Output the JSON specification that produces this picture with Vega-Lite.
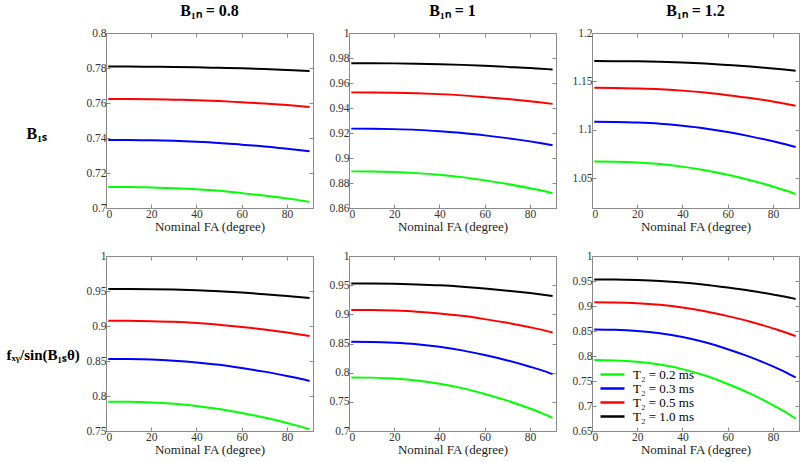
{
"$schema":"https://vega.github.io/schema/vega-lite/v6.json",
"background":"white",
"padding":{"left":5,"top":2,"right":0,"bottom":0},
"config":{
"font":"Liberation Serif",
"view":{"stroke":"#8a8a8a","strokeWidth":1},
"axis":{"grid":false,"domain":false,"tickColor":"#8a8a8a","tickSize":-4,"labelFont":"Liberation Serif","labelFontSize":11.5,"labelColor":"#333333","labelPadding":4,"titleFont":"Liberation Serif","titleFontSize":13,"titleFontWeight":"normal","titleColor":"#222222","titlePadding":1},
"axisX":{"labelFont":"Liberation Serif"},
"axisY":{"labelFont":"Liberation Serif"},
"title":{"font":"Liberation Serif","fontSize":16,"fontWeight":"bold","color":"black","anchor":"middle","frame":"group","offset":8},
"legend":{"labelFont":"Liberation Serif","labelFontSize":13,"labelColor":"black"}
},
"datasets":{"d":[
{"p":"A","t":"1.0","x":1,"v":0.7808},{"p":"A","t":"1.0","x":10,"v":0.7808},{"p":"A","t":"1.0","x":20,"v":0.7807},{"p":"A","t":"1.0","x":30,"v":0.7806},{"p":"A","t":"1.0","x":40,"v":0.7804},{"p":"A","t":"1.0","x":50,"v":0.7801},{"p":"A","t":"1.0","x":60,"v":0.7798},{"p":"A","t":"1.0","x":70,"v":0.7794},{"p":"A","t":"1.0","x":80,"v":0.7789},{"p":"A","t":"1.0","x":85,"v":0.7786},{"p":"A","t":"1.0","x":90,"v":0.7783},
{"p":"A","t":"0.5","x":1,"v":0.7623},{"p":"A","t":"0.5","x":10,"v":0.7623},{"p":"A","t":"0.5","x":20,"v":0.7622},{"p":"A","t":"0.5","x":30,"v":0.7619},{"p":"A","t":"0.5","x":40,"v":0.7616},{"p":"A","t":"0.5","x":50,"v":0.7611},{"p":"A","t":"0.5","x":60,"v":0.7604},{"p":"A","t":"0.5","x":70,"v":0.7597},{"p":"A","t":"0.5","x":80,"v":0.7588},{"p":"A","t":"0.5","x":85,"v":0.7583},{"p":"A","t":"0.5","x":90,"v":0.7577},
{"p":"A","t":"0.3","x":1,"v":0.7389},{"p":"A","t":"0.3","x":10,"v":0.7389},{"p":"A","t":"0.3","x":20,"v":0.7387},{"p":"A","t":"0.3","x":30,"v":0.7384},{"p":"A","t":"0.3","x":40,"v":0.7379},{"p":"A","t":"0.3","x":50,"v":0.7372},{"p":"A","t":"0.3","x":60,"v":0.7362},{"p":"A","t":"0.3","x":70,"v":0.7352},{"p":"A","t":"0.3","x":80,"v":0.7339},{"p":"A","t":"0.3","x":85,"v":0.7332},{"p":"A","t":"0.3","x":90,"v":0.7324},
{"p":"A","t":"0.2","x":1,"v":0.7120},{"p":"A","t":"0.2","x":10,"v":0.7120},{"p":"A","t":"0.2","x":20,"v":0.7117},{"p":"A","t":"0.2","x":30,"v":0.7113},{"p":"A","t":"0.2","x":40,"v":0.7107},{"p":"A","t":"0.2","x":50,"v":0.7098},{"p":"A","t":"0.2","x":60,"v":0.7085},{"p":"A","t":"0.2","x":70,"v":0.7071},{"p":"A","t":"0.2","x":80,"v":0.7055},{"p":"A","t":"0.2","x":85,"v":0.7045},{"p":"A","t":"0.2","x":90,"v":0.7035},
{"p":"B","t":"1.0","x":1,"v":0.9758},{"p":"B","t":"1.0","x":10,"v":0.9758},{"p":"B","t":"1.0","x":20,"v":0.9757},{"p":"B","t":"1.0","x":30,"v":0.9754},{"p":"B","t":"1.0","x":40,"v":0.9750},{"p":"B","t":"1.0","x":50,"v":0.9745},{"p":"B","t":"1.0","x":60,"v":0.9738},{"p":"B","t":"1.0","x":70,"v":0.9729},{"p":"B","t":"1.0","x":80,"v":0.9720},{"p":"B","t":"1.0","x":85,"v":0.9714},{"p":"B","t":"1.0","x":90,"v":0.9708},
{"p":"B","t":"0.5","x":1,"v":0.9525},{"p":"B","t":"0.5","x":10,"v":0.9524},{"p":"B","t":"0.5","x":20,"v":0.9522},{"p":"B","t":"0.5","x":30,"v":0.9518},{"p":"B","t":"0.5","x":40,"v":0.9511},{"p":"B","t":"0.5","x":50,"v":0.9501},{"p":"B","t":"0.5","x":60,"v":0.9487},{"p":"B","t":"0.5","x":70,"v":0.9472},{"p":"B","t":"0.5","x":80,"v":0.9454},{"p":"B","t":"0.5","x":85,"v":0.9444},{"p":"B","t":"0.5","x":90,"v":0.9433},
{"p":"B","t":"0.3","x":1,"v":0.9235},{"p":"B","t":"0.3","x":10,"v":0.9234},{"p":"B","t":"0.3","x":20,"v":0.9231},{"p":"B","t":"0.3","x":30,"v":0.9225},{"p":"B","t":"0.3","x":40,"v":0.9214},{"p":"B","t":"0.3","x":50,"v":0.9200},{"p":"B","t":"0.3","x":60,"v":0.9181},{"p":"B","t":"0.3","x":70,"v":0.9159},{"p":"B","t":"0.3","x":80,"v":0.9133},{"p":"B","t":"0.3","x":85,"v":0.9118},{"p":"B","t":"0.3","x":90,"v":0.9102},
{"p":"B","t":"0.2","x":1,"v":0.8893},{"p":"B","t":"0.2","x":10,"v":0.8892},{"p":"B","t":"0.2","x":20,"v":0.8888},{"p":"B","t":"0.2","x":30,"v":0.8879},{"p":"B","t":"0.2","x":40,"v":0.8866},{"p":"B","t":"0.2","x":50,"v":0.8847},{"p":"B","t":"0.2","x":60,"v":0.8821},{"p":"B","t":"0.2","x":70,"v":0.8792},{"p":"B","t":"0.2","x":80,"v":0.8758},{"p":"B","t":"0.2","x":85,"v":0.8740},{"p":"B","t":"0.2","x":90,"v":0.8718},
{"p":"C","t":"1.0","x":1,"v":1.1710},{"p":"C","t":"1.0","x":10,"v":1.1709},{"p":"C","t":"1.0","x":20,"v":1.1707},{"p":"C","t":"1.0","x":30,"v":1.1702},{"p":"C","t":"1.0","x":40,"v":1.1695},{"p":"C","t":"1.0","x":50,"v":1.1684},{"p":"C","t":"1.0","x":60,"v":1.1669},{"p":"C","t":"1.0","x":70,"v":1.1653},{"p":"C","t":"1.0","x":80,"v":1.1633},{"p":"C","t":"1.0","x":85,"v":1.1622},{"p":"C","t":"1.0","x":90,"v":1.1610},
{"p":"C","t":"0.5","x":1,"v":1.1433},{"p":"C","t":"0.5","x":10,"v":1.1432},{"p":"C","t":"0.5","x":20,"v":1.1427},{"p":"C","t":"0.5","x":30,"v":1.1419},{"p":"C","t":"0.5","x":40,"v":1.1404},{"p":"C","t":"0.5","x":50,"v":1.1384},{"p":"C","t":"0.5","x":60,"v":1.1357},{"p":"C","t":"0.5","x":70,"v":1.1327},{"p":"C","t":"0.5","x":80,"v":1.1291},{"p":"C","t":"0.5","x":85,"v":1.1271},{"p":"C","t":"0.5","x":90,"v":1.1248},
{"p":"C","t":"0.3","x":1,"v":1.1082},{"p":"C","t":"0.3","x":10,"v":1.1080},{"p":"C","t":"0.3","x":20,"v":1.1074},{"p":"C","t":"0.3","x":30,"v":1.1062},{"p":"C","t":"0.3","x":40,"v":1.1041},{"p":"C","t":"0.3","x":50,"v":1.1013},{"p":"C","t":"0.3","x":60,"v":1.0975},{"p":"C","t":"0.3","x":70,"v":1.0931},{"p":"C","t":"0.3","x":80,"v":1.0880},{"p":"C","t":"0.3","x":85,"v":1.0852},{"p":"C","t":"0.3","x":90,"v":1.0820},
{"p":"C","t":"0.2","x":1,"v":1.0670},{"p":"C","t":"0.2","x":10,"v":1.0668},{"p":"C","t":"0.2","x":20,"v":1.0660},{"p":"C","t":"0.2","x":30,"v":1.0644},{"p":"C","t":"0.2","x":40,"v":1.0618},{"p":"C","t":"0.2","x":50,"v":1.0581},{"p":"C","t":"0.2","x":60,"v":1.0533},{"p":"C","t":"0.2","x":70,"v":1.0477},{"p":"C","t":"0.2","x":80,"v":1.0412},{"p":"C","t":"0.2","x":85,"v":1.0376},{"p":"C","t":"0.2","x":90,"v":1.0335},
{"p":"D","t":"1.0","x":1,"v":0.9530},{"p":"D","t":"1.0","x":10,"v":0.9529},{"p":"D","t":"1.0","x":20,"v":0.9526},{"p":"D","t":"1.0","x":30,"v":0.9520},{"p":"D","t":"1.0","x":40,"v":0.9510},{"p":"D","t":"1.0","x":50,"v":0.9496},{"p":"D","t":"1.0","x":60,"v":0.9477},{"p":"D","t":"1.0","x":70,"v":0.9455},{"p":"D","t":"1.0","x":80,"v":0.9430},{"p":"D","t":"1.0","x":85,"v":0.9416},{"p":"D","t":"1.0","x":90,"v":0.9400},
{"p":"D","t":"0.5","x":1,"v":0.9076},{"p":"D","t":"0.5","x":10,"v":0.9075},{"p":"D","t":"0.5","x":20,"v":0.9069},{"p":"D","t":"0.5","x":30,"v":0.9059},{"p":"D","t":"0.5","x":40,"v":0.9042},{"p":"D","t":"0.5","x":50,"v":0.9018},{"p":"D","t":"0.5","x":60,"v":0.8986},{"p":"D","t":"0.5","x":70,"v":0.8950},{"p":"D","t":"0.5","x":80,"v":0.8907},{"p":"D","t":"0.5","x":85,"v":0.8883},{"p":"D","t":"0.5","x":90,"v":0.8856},
{"p":"D","t":"0.3","x":1,"v":0.8529},{"p":"D","t":"0.3","x":10,"v":0.8527},{"p":"D","t":"0.3","x":20,"v":0.8520},{"p":"D","t":"0.3","x":30,"v":0.8504},{"p":"D","t":"0.3","x":40,"v":0.8480},{"p":"D","t":"0.3","x":50,"v":0.8446},{"p":"D","t":"0.3","x":60,"v":0.8400},{"p":"D","t":"0.3","x":70,"v":0.8348},{"p":"D","t":"0.3","x":80,"v":0.8286},{"p":"D","t":"0.3","x":85,"v":0.8253},{"p":"D","t":"0.3","x":90,"v":0.8214},
{"p":"D","t":"0.2","x":1,"v":0.7919},{"p":"D","t":"0.2","x":10,"v":0.7917},{"p":"D","t":"0.2","x":20,"v":0.7907},{"p":"D","t":"0.2","x":30,"v":0.7888},{"p":"D","t":"0.2","x":40,"v":0.7858},{"p":"D","t":"0.2","x":50,"v":0.7814},{"p":"D","t":"0.2","x":60,"v":0.7757},{"p":"D","t":"0.2","x":70,"v":0.7692},{"p":"D","t":"0.2","x":80,"v":0.7615},{"p":"D","t":"0.2","x":85,"v":0.7573},{"p":"D","t":"0.2","x":90,"v":0.7524},
{"p":"E","t":"1.0","x":1,"v":0.9530},{"p":"E","t":"1.0","x":10,"v":0.9529},{"p":"E","t":"1.0","x":20,"v":0.9524},{"p":"E","t":"1.0","x":30,"v":0.9513},{"p":"E","t":"1.0","x":40,"v":0.9497},{"p":"E","t":"1.0","x":50,"v":0.9473},{"p":"E","t":"1.0","x":60,"v":0.9442},{"p":"E","t":"1.0","x":70,"v":0.9406},{"p":"E","t":"1.0","x":80,"v":0.9364},{"p":"E","t":"1.0","x":85,"v":0.9341},{"p":"E","t":"1.0","x":90,"v":0.9315},
{"p":"E","t":"0.5","x":1,"v":0.9076},{"p":"E","t":"0.5","x":10,"v":0.9074},{"p":"E","t":"0.5","x":20,"v":0.9064},{"p":"E","t":"0.5","x":30,"v":0.9046},{"p":"E","t":"0.5","x":40,"v":0.9016},{"p":"E","t":"0.5","x":50,"v":0.8974},{"p":"E","t":"0.5","x":60,"v":0.8918},{"p":"E","t":"0.5","x":70,"v":0.8854},{"p":"E","t":"0.5","x":80,"v":0.8779},{"p":"E","t":"0.5","x":85,"v":0.8738},{"p":"E","t":"0.5","x":90,"v":0.8690},
{"p":"E","t":"0.3","x":1,"v":0.8529},{"p":"E","t":"0.3","x":10,"v":0.8526},{"p":"E","t":"0.3","x":20,"v":0.8512},{"p":"E","t":"0.3","x":30,"v":0.8486},{"p":"E","t":"0.3","x":40,"v":0.8443},{"p":"E","t":"0.3","x":50,"v":0.8382},{"p":"E","t":"0.3","x":60,"v":0.8302},{"p":"E","t":"0.3","x":70,"v":0.8210},{"p":"E","t":"0.3","x":80,"v":0.8102},{"p":"E","t":"0.3","x":85,"v":0.8043},{"p":"E","t":"0.3","x":90,"v":0.7975},
{"p":"E","t":"0.2","x":1,"v":0.7919},{"p":"E","t":"0.2","x":10,"v":0.7915},{"p":"E","t":"0.2","x":20,"v":0.7898},{"p":"E","t":"0.2","x":30,"v":0.7865},{"p":"E","t":"0.2","x":40,"v":0.7811},{"p":"E","t":"0.2","x":50,"v":0.7735},{"p":"E","t":"0.2","x":60,"v":0.7635},{"p":"E","t":"0.2","x":70,"v":0.7520},{"p":"E","t":"0.2","x":80,"v":0.7385},{"p":"E","t":"0.2","x":85,"v":0.7310},{"p":"E","t":"0.2","x":90,"v":0.7225},
{"p":"F","t":"1.0","x":1,"v":0.9530},{"p":"F","t":"1.0","x":10,"v":0.9528},{"p":"F","t":"1.0","x":20,"v":0.9518},{"p":"F","t":"1.0","x":30,"v":0.9500},{"p":"F","t":"1.0","x":40,"v":0.9470},{"p":"F","t":"1.0","x":50,"v":0.9427},{"p":"F","t":"1.0","x":60,"v":0.9370},{"p":"F","t":"1.0","x":70,"v":0.9306},{"p":"F","t":"1.0","x":80,"v":0.9230},{"p":"F","t":"1.0","x":85,"v":0.9188},{"p":"F","t":"1.0","x":90,"v":0.9140},
{"p":"F","t":"0.5","x":1,"v":0.9076},{"p":"F","t":"0.5","x":10,"v":0.9072},{"p":"F","t":"0.5","x":20,"v":0.9056},{"p":"F","t":"0.5","x":30,"v":0.9023},{"p":"F","t":"0.5","x":40,"v":0.8971},{"p":"F","t":"0.5","x":50,"v":0.8896},{"p":"F","t":"0.5","x":60,"v":0.8797},{"p":"F","t":"0.5","x":70,"v":0.8685},{"p":"F","t":"0.5","x":80,"v":0.8552},{"p":"F","t":"0.5","x":85,"v":0.8480},{"p":"F","t":"0.5","x":90,"v":0.8396},
{"p":"F","t":"0.3","x":1,"v":0.8529},{"p":"F","t":"0.3","x":10,"v":0.8523},{"p":"F","t":"0.3","x":20,"v":0.8500},{"p":"F","t":"0.3","x":30,"v":0.8454},{"p":"F","t":"0.3","x":40,"v":0.8380},{"p":"F","t":"0.3","x":50,"v":0.8275},{"p":"F","t":"0.3","x":60,"v":0.8136},{"p":"F","t":"0.3","x":70,"v":0.7978},{"p":"F","t":"0.3","x":80,"v":0.7791},{"p":"F","t":"0.3","x":85,"v":0.7688},{"p":"F","t":"0.3","x":90,"v":0.7570},
{"p":"F","t":"0.2","x":1,"v":0.7919},{"p":"F","t":"0.2","x":10,"v":0.7912},{"p":"F","t":"0.2","x":20,"v":0.7884},{"p":"F","t":"0.2","x":30,"v":0.7828},{"p":"F","t":"0.2","x":40,"v":0.7738},{"p":"F","t":"0.2","x":50,"v":0.7609},{"p":"F","t":"0.2","x":60,"v":0.7440},{"p":"F","t":"0.2","x":70,"v":0.7247},{"p":"F","t":"0.2","x":80,"v":0.7019},{"p":"F","t":"0.2","x":85,"v":0.6894},{"p":"F","t":"0.2","x":90,"v":0.6750}
]},
"columns":3,
"spacing":{"row":48,"column":36},
"bounds":"flush",
"resolve":{"scale":{"x":"independent","y":"independent","color":"independent"},"legend":{"color":"independent"}},
"concat":[
{"width":207,"height":175,"title":{"text":"B₁ₙ = 0.8"},"data":{"name":"d"},"transform":[{"filter":"datum.p == 'A'"}],
"layer":[
{"mark":{"type":"line","strokeWidth":2,"interpolate":"monotone"},"encoding":{
"x":{"field":"x","type":"quantitative","scale":{"domain":[0,91.5],"nice":false,"zero":false},"axis":{"orient":"bottom","values":[0,20,40,60,80],"title":"Nominal FA (degree)"}},
"y":{"field":"v","type":"quantitative","scale":{"domain":[0.7,0.8],"nice":false,"zero":false},"axis":{"orient":"left","values":[0.7,0.72,0.74,0.76,0.78,0.8],"format":"~g","title":"B₁ₛ","titleAngle":0,"titleAlign":"left","titleBaseline":"middle","titleX":-80,"titleY":100,"titleFontSize":16,"titleFontWeight":"bold","titleColor":"black"}},
"color":{"field":"t","type":"nominal","scale":{"domain":["0.2","0.3","0.5","1.0"],"range":["#00ff00","#0000ff","#ff0000","#000000"]},"legend":null}}},
{"mark":{"type":"line","opacity":0},"encoding":{
"x":{"field":"x","type":"quantitative","scale":{"domain":[0,91.5],"nice":false,"zero":false},"axis":{"orient":"top","values":[0,20,40,60,80],"labels":false,"title":null}},
"y":{"field":"v","type":"quantitative","scale":{"domain":[0.7,0.8],"nice":false,"zero":false},"axis":{"orient":"right","values":[0.7,0.72,0.74,0.76,0.78,0.8],"labels":false,"title":null}},
"detail":{"field":"t"}}}
],"resolve":{"axis":{"x":"independent","y":"independent"}}},
{"width":207,"height":175,"title":{"text":"B₁ₙ = 1"},"data":{"name":"d"},"transform":[{"filter":"datum.p == 'B'"}],
"layer":[
{"mark":{"type":"line","strokeWidth":2,"interpolate":"monotone"},"encoding":{
"x":{"field":"x","type":"quantitative","scale":{"domain":[0,91.5],"nice":false,"zero":false},"axis":{"orient":"bottom","values":[0,20,40,60,80],"title":"Nominal FA (degree)"}},
"y":{"field":"v","type":"quantitative","scale":{"domain":[0.86,1],"nice":false,"zero":false},"axis":{"orient":"left","values":[0.86,0.88,0.9,0.92,0.94,0.96,0.98,1],"format":"~g","title":null}},
"color":{"field":"t","type":"nominal","scale":{"domain":["0.2","0.3","0.5","1.0"],"range":["#00ff00","#0000ff","#ff0000","#000000"]},"legend":null}}},
{"mark":{"type":"line","opacity":0},"encoding":{
"x":{"field":"x","type":"quantitative","scale":{"domain":[0,91.5],"nice":false,"zero":false},"axis":{"orient":"top","values":[0,20,40,60,80],"labels":false,"title":null}},
"y":{"field":"v","type":"quantitative","scale":{"domain":[0.86,1],"nice":false,"zero":false},"axis":{"orient":"right","values":[0.86,0.88,0.9,0.92,0.94,0.96,0.98,1],"labels":false,"title":null}},
"detail":{"field":"t"}}}
],"resolve":{"axis":{"x":"independent","y":"independent"}}},
{"width":207,"height":175,"title":{"text":"B₁ₙ = 1.2"},"data":{"name":"d"},"transform":[{"filter":"datum.p == 'C'"}],
"layer":[
{"mark":{"type":"line","strokeWidth":2,"interpolate":"monotone"},"encoding":{
"x":{"field":"x","type":"quantitative","scale":{"domain":[0,91.5],"nice":false,"zero":false},"axis":{"orient":"bottom","values":[0,20,40,60,80],"title":"Nominal FA (degree)"}},
"y":{"field":"v","type":"quantitative","scale":{"domain":[1.019,1.2],"nice":false,"zero":false},"axis":{"orient":"left","values":[1.05,1.1,1.15,1.2],"format":"~g","title":null}},
"color":{"field":"t","type":"nominal","scale":{"domain":["0.2","0.3","0.5","1.0"],"range":["#00ff00","#0000ff","#ff0000","#000000"]},"legend":null}}},
{"mark":{"type":"line","opacity":0},"encoding":{
"x":{"field":"x","type":"quantitative","scale":{"domain":[0,91.5],"nice":false,"zero":false},"axis":{"orient":"top","values":[0,20,40,60,80],"labels":false,"title":null}},
"y":{"field":"v","type":"quantitative","scale":{"domain":[1.019,1.2],"nice":false,"zero":false},"axis":{"orient":"right","values":[1.05,1.1,1.15,1.2],"labels":false,"title":null}},
"detail":{"field":"t"}}}
],"resolve":{"axis":{"x":"independent","y":"independent"}}},
{"width":207,"height":175,"data":{"name":"d"},"transform":[{"filter":"datum.p == 'D'"}],
"layer":[
{"mark":{"type":"line","strokeWidth":2,"interpolate":"monotone"},"encoding":{
"x":{"field":"x","type":"quantitative","scale":{"domain":[0,91.5],"nice":false,"zero":false},"axis":{"orient":"bottom","values":[0,20,40,60,80],"title":"Nominal FA (degree)"}},
"y":{"field":"v","type":"quantitative","scale":{"domain":[0.75,1],"nice":false,"zero":false},"axis":{"orient":"left","values":[0.75,0.8,0.85,0.9,0.95,1],"format":"~g","title":"fₓᵧ/sin(B₁ₛθ)","titleAngle":0,"titleAlign":"left","titleBaseline":"middle","titleX":-100,"titleY":98,"titleFontSize":15,"titleFontWeight":"bold","titleColor":"black"}},
"color":{"field":"t","type":"nominal","scale":{"domain":["0.2","0.3","0.5","1.0"],"range":["#00ff00","#0000ff","#ff0000","#000000"]},"legend":null}}},
{"mark":{"type":"line","opacity":0},"encoding":{
"x":{"field":"x","type":"quantitative","scale":{"domain":[0,91.5],"nice":false,"zero":false},"axis":{"orient":"top","values":[0,20,40,60,80],"labels":false,"title":null}},
"y":{"field":"v","type":"quantitative","scale":{"domain":[0.75,1],"nice":false,"zero":false},"axis":{"orient":"right","values":[0.75,0.8,0.85,0.9,0.95,1],"labels":false,"title":null}},
"detail":{"field":"t"}}}
],"resolve":{"axis":{"x":"independent","y":"independent"}}},
{"width":207,"height":175,"data":{"name":"d"},"transform":[{"filter":"datum.p == 'E'"}],
"layer":[
{"mark":{"type":"line","strokeWidth":2,"interpolate":"monotone"},"encoding":{
"x":{"field":"x","type":"quantitative","scale":{"domain":[0,91.5],"nice":false,"zero":false},"axis":{"orient":"bottom","values":[0,20,40,60,80],"title":"Nominal FA (degree)"}},
"y":{"field":"v","type":"quantitative","scale":{"domain":[0.7,1],"nice":false,"zero":false},"axis":{"orient":"left","values":[0.7,0.75,0.8,0.85,0.9,0.95,1],"format":"~g","title":null}},
"color":{"field":"t","type":"nominal","scale":{"domain":["0.2","0.3","0.5","1.0"],"range":["#00ff00","#0000ff","#ff0000","#000000"]},"legend":null}}},
{"mark":{"type":"line","opacity":0},"encoding":{
"x":{"field":"x","type":"quantitative","scale":{"domain":[0,91.5],"nice":false,"zero":false},"axis":{"orient":"top","values":[0,20,40,60,80],"labels":false,"title":null}},
"y":{"field":"v","type":"quantitative","scale":{"domain":[0.7,1],"nice":false,"zero":false},"axis":{"orient":"right","values":[0.7,0.75,0.8,0.85,0.9,0.95,1],"labels":false,"title":null}},
"detail":{"field":"t"}}}
],"resolve":{"axis":{"x":"independent","y":"independent"}}},
{"width":207,"height":175,"data":{"name":"d"},"transform":[{"filter":"datum.p == 'F'"}],
"layer":[
{"mark":{"type":"line","strokeWidth":2,"interpolate":"monotone"},"encoding":{
"x":{"field":"x","type":"quantitative","scale":{"domain":[0,91.5],"nice":false,"zero":false},"axis":{"orient":"bottom","values":[0,20,40,60,80],"title":"Nominal FA (degree)"}},
"y":{"field":"v","type":"quantitative","scale":{"domain":[0.65,1],"nice":false,"zero":false},"axis":{"orient":"left","values":[0.65,0.7,0.75,0.8,0.85,0.9,0.95,1],"format":"~g","title":null}},
"color":{"field":"t","type":"nominal","scale":{"domain":["0.2","0.3","0.5","1.0"],"range":["#00ff00","#0000ff","#ff0000","#000000"]},"legend":{"orient":"bottom-left","offset":7,"padding":0,"title":null,"labelExpr":"'T₂ = ' + datum.label + ' ms'","symbolType":"M-1,0H3.8","symbolSize":100,"symbolStrokeWidth":2.5,"labelOffset":21,"rowPadding":0}}}},
{"mark":{"type":"line","opacity":0},"encoding":{
"x":{"field":"x","type":"quantitative","scale":{"domain":[0,91.5],"nice":false,"zero":false},"axis":{"orient":"top","values":[0,20,40,60,80],"labels":false,"title":null}},
"y":{"field":"v","type":"quantitative","scale":{"domain":[0.65,1],"nice":false,"zero":false},"axis":{"orient":"right","values":[0.65,0.7,0.75,0.8,0.85,0.9,0.95,1],"labels":false,"title":null}},
"detail":{"field":"t"}}}
],"resolve":{"axis":{"x":"independent","y":"independent"}}}
]
}
